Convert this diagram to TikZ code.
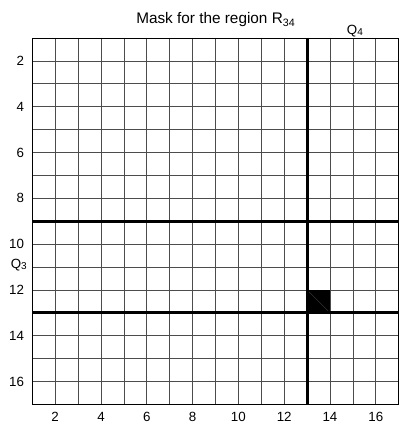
\documentclass[tikz,border=0pt]{standalone}
\usepackage{fontspec}
\setmainfont{Liberation Sans}
\begin{document}
\begin{tikzpicture}[x=17.175pt,y=-17.175pt,
  gridline/.style={black!70,line width=0.5pt},
  thickline/.style={black,line width=2.2pt},
  ticklab/.style={font=\fontsize{10}{12}\selectfont, inner sep=0pt},
  titlelab/.style={font=\fontsize{11.5}{13}\selectfont, inner sep=0pt}]
\useasboundingbox (-0.410,-0.659) rectangle (17.057,17.90);
\foreach \i in {2,...,16} {
  \draw[gridline] (\i,1) -- (\i,17);
  \draw[gridline] (1,\i) -- (17,\i);
}
\fill (13,12) rectangle (14,13);
\draw[black!75, line width=0.3pt] (13,12) -- (14,13);
\draw[thickline] (1,9) -- (17,9);
\draw[thickline] (1,13) -- (17,13);
\draw[thickline] (13,1) -- (13,17);
\draw[black, line width=0.6pt] (1,1) rectangle (17,17);
\foreach \i in {2,4,...,16} {
  \node[ticklab] (xl\i) at (\i,17.55) {\i};
  \node[ticklab, anchor=east] (yl\i) at (0.65,\i) {\i};
}
\node[ticklab, anchor=east] (q3) at (0.77,10.93) {Q\raisebox{-0.15ex}{\fontsize{7.5}{8}\selectfont 3}};
\node[ticklab] (q4) at (15.09,0.68) {Q\raisebox{-0.15ex}{\fontsize{7.5}{8}\selectfont 4}};
\node[titlelab] (title) at (9,0.2) {Mask for the region R\raisebox{-0.45ex}{\fontsize{8}{9}\selectfont 34}};
\end{tikzpicture}
\end{document}
